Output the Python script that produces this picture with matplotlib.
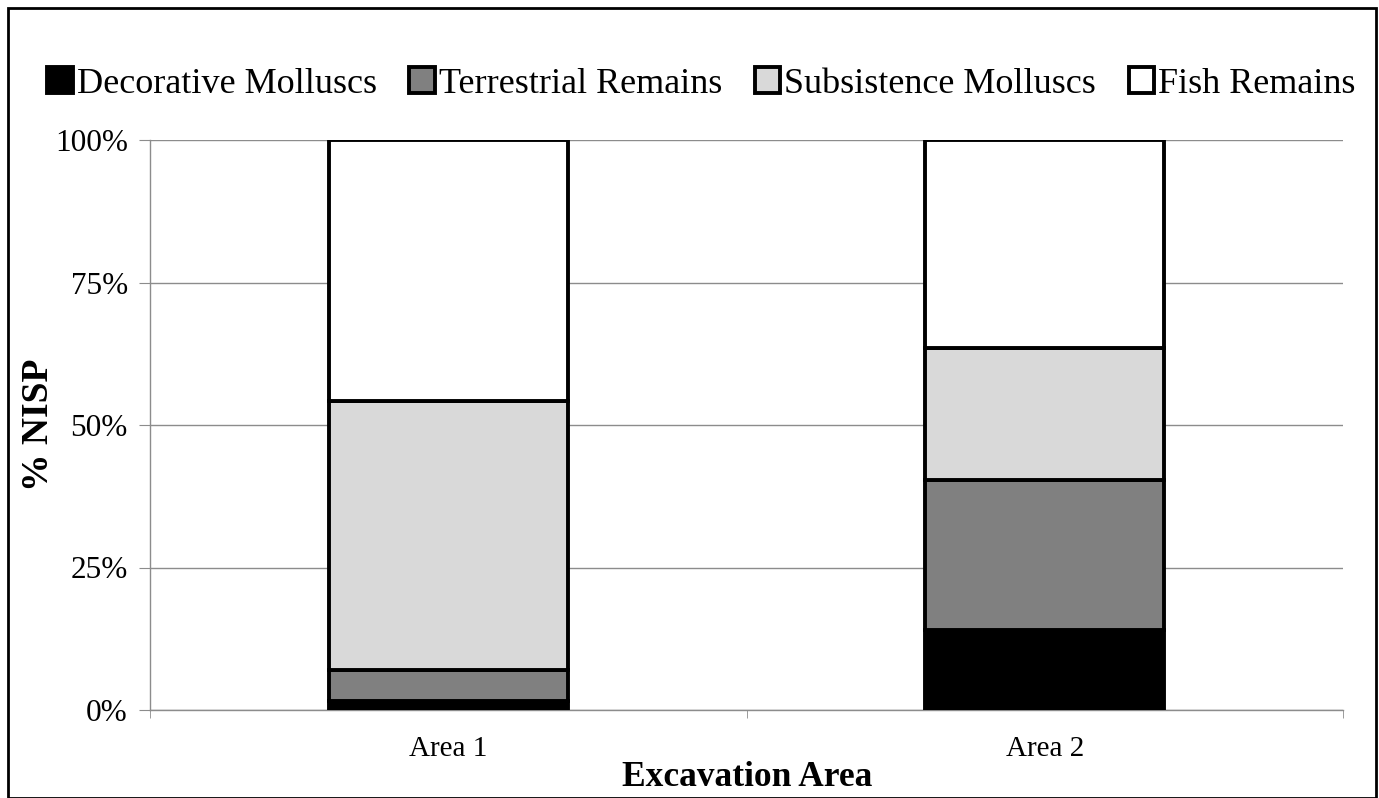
import matplotlib
matplotlib.use("Agg")
import matplotlib.pyplot as plt
from matplotlib.patches import Rectangle
from matplotlib.ticker import FixedLocator, PercentFormatter

areas = ["Area 1", "Area 2"]
series_names = ["Decorative Molluscs", "Terrestrial Remains", "Subsistence Molluscs", "Fish Remains"]
decorative = [1.5, 14.0]
terrestrial = [5.5, 26.4]
subsistence = [47.2, 23.1]
fish = [45.8, 36.5]
colors = ["#000000", "#808080", "#d9d9d9", "#ffffff"]
y_ticks = [0, 25, 50, 75, 100]

plt.rcParams['font.family'] = ['Liberation Serif', 'DejaVu Serif']

W, H = 1379, 798
fig = plt.figure(figsize=(W / 100, H / 100), dpi=100)
ax = fig.add_axes([150 / W, 1 - 710 / H, (1343 - 150) / W, (710 - 140) / H])

x = list(range(len(areas)))
bottom = [0.0] * len(areas)
for name, vals, c in zip(series_names, [decorative, terrestrial, subsistence, fish], colors):
    ax.bar(x, vals, width=0.4, bottom=bottom, color=c, edgecolor="black",
           linewidth=2.8, label=name, zorder=3)
    bottom = [b + v for b, v in zip(bottom, vals)]

ax.set_xlim(-0.5, 1.5)
ax.set_ylim(0, 100)
ax.yaxis.set_major_locator(FixedLocator(y_ticks))
ax.yaxis.set_major_formatter(PercentFormatter(decimals=0))
ax.grid(axis="y", color="#8c8c8c", linewidth=1, zorder=0)
for s in ["top", "right"]:
    ax.spines[s].set_visible(False)
for s in ["left", "bottom"]:
    ax.spines[s].set_color("#8c8c8c")
    ax.spines[s].set_linewidth(1)

ax.set_xticks(x)
ax.set_xticklabels(areas, fontsize=21)
ax.set_xticks([-0.5, 0.5, 1.5], minor=True)
ax.tick_params(axis="x", which="major", length=0, pad=19)
ax.tick_params(axis="x", which="minor", length=6, color="#8c8c8c", direction="out")
ax.tick_params(axis="y", which="major", length=8, color="#8c8c8c", direction="out",
               labelsize=22.5, pad=8)

fig.text(747 / W, 1 - 777 / H, "Excavation Area", fontsize=25.5, fontweight="bold",
         ha="center", va="center")
fig.text(38 / W, 1 - 425 / H, "% NISP", rotation=90, fontsize=27, fontweight="bold",
         ha="center", va="center")

handles, labels = ax.get_legend_handles_labels()
fig.legend(handles, labels, loc="center", bbox_to_anchor=(0.5 + 12 / W, 1 - 84 / H), ncol=4,
           frameon=False, fontsize=26, handlelength=0.7, handleheight=0.7,
           handletextpad=0.12, columnspacing=0.9)

fig.patches.append(Rectangle((8 / W, 0), (W - 11) / W, 1 - 8 / H, transform=fig.transFigure,
                             fill=False, edgecolor="black", linewidth=2))

fig.savefig("out.png", dpi=100)
